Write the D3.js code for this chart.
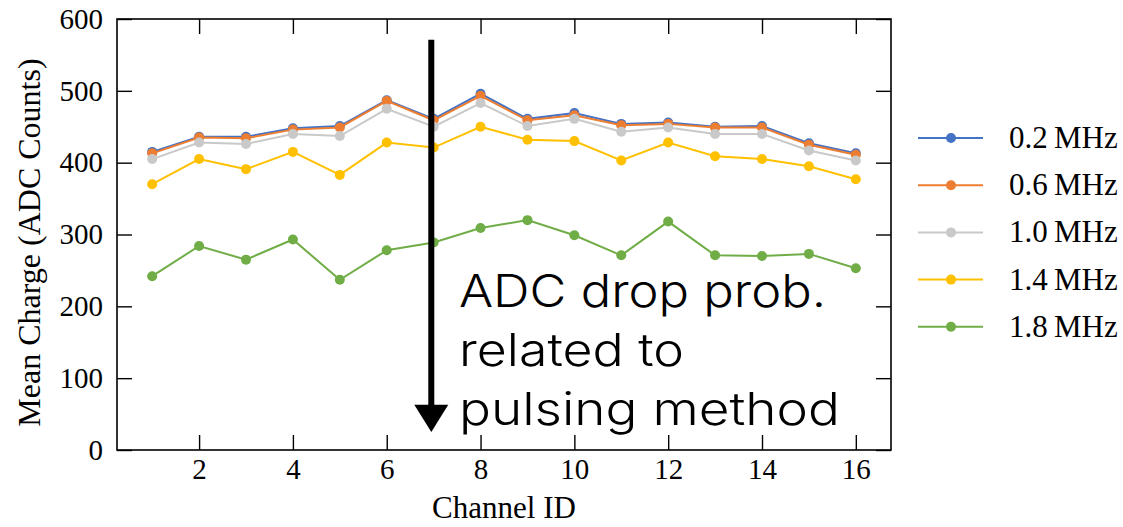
<!DOCTYPE html>
<html>
<head>
<meta charset="utf-8">
<script src="https://d3js.org/d3.v7.min.js"></script>
<style>
  body { margin: 0; background: #fff; }
  svg { display: block; }
  .tick text { font-family: "Liberation Serif", "DejaVu Serif", serif; font-size: 29px; fill: #000; }
  .tick line { stroke: #000; stroke-width: 1.4; }
</style>
</head>
<body>
<svg width="1123" height="527"></svg>
<script>
// channel ids and mean charge per pulsing frequency
const channels = d3.range(1, 17)
const freqLabels = ['0.2 MHz', '0.6 MHz', '1.0 MHz', '1.4 MHz', '1.8 MHz']
const colors = ['#4472c4', '#ed7d31', '#c9c9c9', '#ffc000', '#70ad47']

const mhz02 = [415, 436, 436, 448, 451, 487, 461, 496, 461, 469, 454, 456, 450, 451, 427, 413]
const mhz06 = [413, 435, 434, 446, 449, 486, 459, 493, 459, 466, 452, 454, 449, 449, 425, 411]
const mhz10 = [405, 428, 426, 440, 437, 475, 450, 483, 451, 461, 443, 449, 440, 440, 417, 403]
const mhz14 = [370, 405, 391, 415, 383, 428, 421, 450, 432, 430, 403, 428, 409, 405, 395, 377]
const mhz18 = [242, 284, 265, 293, 237, 278, 289, 309, 320, 299, 271, 318, 271, 270, 273, 253]

const xTicks = [2, 4, 6, 8, 10, 12, 14, 16]
const yTicks = [0, 100, 200, 300, 400, 500, 600]
const noteLines = ['ADC drop prob.', 'related to', 'pulsing method']
const noteWidths = [367, 225, 381]

const series = [mhz02, mhz06, mhz10, mhz14, mhz18].map((vals, i) => ({
  label: freqLabels[i], color: colors[i], values: vals
}))

const svg = d3.select('svg')
const mLeft = 117, mRight = 891, mTop = 19, mBottom = 450

const x = d3.scaleLinear().domain([0.25, 16.75]).range([mLeft, mRight])
const y = d3.scaleLinear().domain([0, 600]).range([mBottom, mTop])

// axes, ticks pointing in on all sides
svg.append('g').attr('transform', `translate(0,${mBottom})`)
  .call(d3.axisBottom(x).tickValues(xTicks).tickSize(-15).tickPadding(8))
svg.append('g').attr('transform', `translate(0,${mTop})`)
  .call(d3.axisTop(x).tickValues(xTicks).tickSize(-15).tickFormat(''))
svg.append('g').attr('transform', `translate(${mLeft},0)`)
  .call(d3.axisLeft(y).tickValues(yTicks).tickSize(-15).tickPadding(14))
svg.append('g').attr('transform', `translate(${mRight},0)`)
  .call(d3.axisRight(y).tickValues(yTicks).tickSize(-15).tickFormat(''))
svg.selectAll('.domain').remove()

svg.append('rect')
  .attr('x', mLeft).attr('y', mTop)
  .attr('width', mRight - mLeft).attr('height', mBottom - mTop)
  .attr('fill', 'none').attr('stroke', '#000').attr('stroke-width', 1.6)

// lines + markers
const line = d3.line().x((d, i) => x(channels[i])).y(d => y(d))
const g = svg.selectAll('g.series').data(series).enter().append('g').attr('class', 'series')
g.append('path')
  .attr('d', d => line(d.values))
  .attr('fill', 'none')
  .attr('stroke', d => d.color)
  .attr('stroke-width', 2)
g.selectAll('circle').data(d => d.values.map(v => ({ v: v, c: d.color })))
  .enter().append('circle')
  .attr('cx', (d, i) => x(channels[i]))
  .attr('cy', d => y(d.v))
  .attr('r', 5)
  .attr('fill', d => d.c)

// axis labels
svg.append('text')
  .text('Channel ID')
  .attr('x', (mLeft + mRight) / 2).attr('y', 518)
  .attr('text-anchor', 'middle')
  .style('font-family', '"Liberation Serif", serif').style('font-size', '31px')
svg.append('text')
  .text('Mean Charge (ADC Counts)')
  .attr('transform', `translate(40,${(mTop + mBottom) / 2 + 8}) rotate(-90)`)
  .attr('text-anchor', 'middle')
  .style('font-family', '"Liberation Serif", serif').style('font-size', '32px')

// annotation arrow
const ax = x(6.95)
svg.append('line')
  .attr('x1', ax).attr('x2', ax)
  .attr('y1', y(571)).attr('y2', y(62))
  .attr('stroke', '#000').attr('stroke-width', 6)
svg.append('path')
  .attr('d', `M${ax - 17},${y(63)} L${ax + 17},${y(63)} L${ax},${y(25)} Z`)
  .attr('fill', '#000')

svg.append('g').selectAll('text').data(noteLines).enter().append('text')
  .text(d => d)
  .attr('x', 459)
  .attr('y', (d, i) => 307 + i * 59)
  .attr('textLength', (d, i) => noteWidths[i])
  .attr('lengthAdjust', 'spacingAndGlyphs')
  .style('font-family', 'Inter, "Noto Sans", sans-serif')
  .style('font-size', '45px')
  .style('font-weight', 300)

// legend
const legend = svg.append('g').selectAll('g').data(series).enter().append('g')
  .attr('transform', (d, i) => `translate(918,${138 + i * 47.2})`)
legend.append('line')
  .attr('x1', 0).attr('x2', 65)
  .attr('stroke', d => d.color).attr('stroke-width', 2)
legend.append('circle')
  .attr('cx', 33).attr('r', 5)
  .attr('fill', d => d.color)
legend.append('text')
  .text(d => d.label.replace(' ', '\u2009'))
  .attr('x', 91).attr('y', 10)
  .style('font-family', '"Liberation Serif", serif').style('font-size', '31px')
</script>
</body>
</html>
